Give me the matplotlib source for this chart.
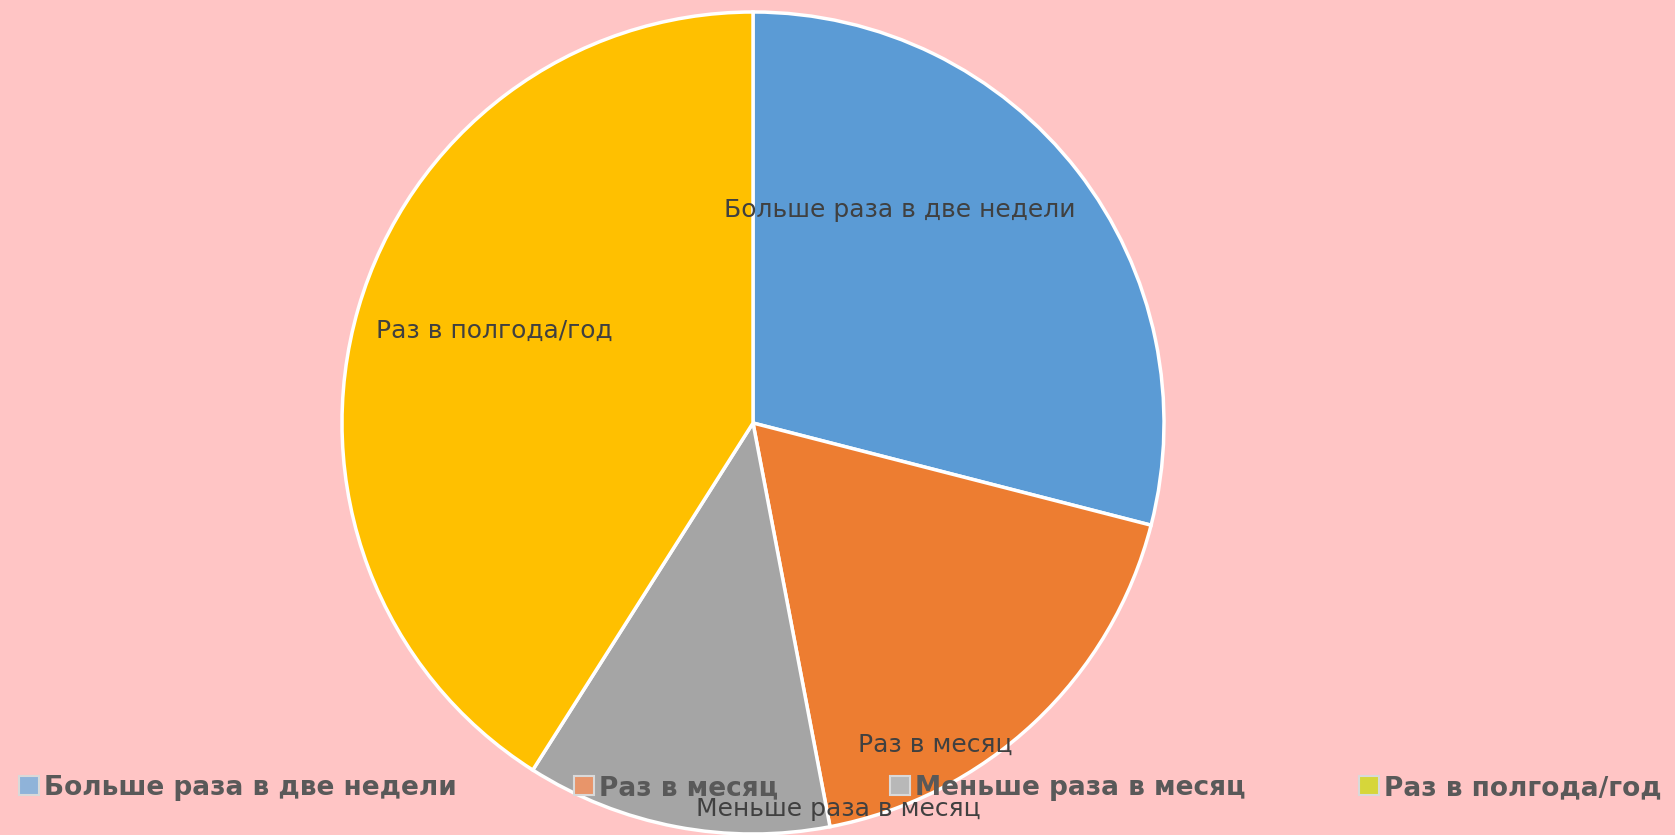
import matplotlib.pyplot as plt
from matplotlib.patches import Patch

# data
categories = ["Больше раза в две недели", "Раз в месяц", "Меньше раза в месяц", "Раз в полгода/год"]
values = [29, 18, 12, 41]
colors = ["#5B9BD5", "#ED7D31", "#A5A5A5", "#FFC000"]
legend_marker_colors = ["#8FB3D9", "#E8956A", "#B8B8B8", "#D6D63A"]

bg = "#FFC5C5"
W, H = 1675, 835
fig = plt.figure(figsize=(W / 100, H / 100), dpi=100, facecolor=bg)

# pie centre ~ (753, 423) px, radius ~ 411 px
cx, cy, r = 753, 423, 411
ax = fig.add_axes([(cx - r) / W, (H - cy - r) / H, 2 * r / W, 2 * r / H])
ax.set_facecolor("none")
wedges, _ = ax.pie(values, colors=colors, startangle=90, counterclock=False,
                   wedgeprops=dict(edgecolor="white", linewidth=2.5))
for w in wedges:
    w.set_clip_on(False)
ax.set_xlim(-1, 1)
ax.set_ylim(-1, 1)
ax.set_aspect("equal")
ax.axis("off")

# data labels (positions)
label_pos = [(0.358, 0.518), (0.443, -0.783), (0.207, -0.939), (-0.63, 0.224)]
for name, (x, y) in zip(categories, label_pos):
    ax.text(x, y, name, ha="center", va="center", fontsize=18, color="#404040", zorder=5)

# legend, one entry per slot along the bottom
legend_x = [19, 574, 890, 1359]
for name, mc, lx in zip(categories, legend_marker_colors, legend_x):
    h = Patch(facecolor=mc, edgecolor="#D9D9D9", linewidth=1.5)
    leg = fig.legend([h], [name], loc="center left", bbox_to_anchor=(lx / W, 1 - 788 / H),
                     frameon=False, handlelength=0.75, handleheight=0.75, handletextpad=0.2,
                     borderpad=0, borderaxespad=0,
                     prop=dict(size=19, weight="bold"))
    for t in leg.get_texts():
        t.set_color("#595959")

fig.savefig("out.png", dpi=100, facecolor=bg)
